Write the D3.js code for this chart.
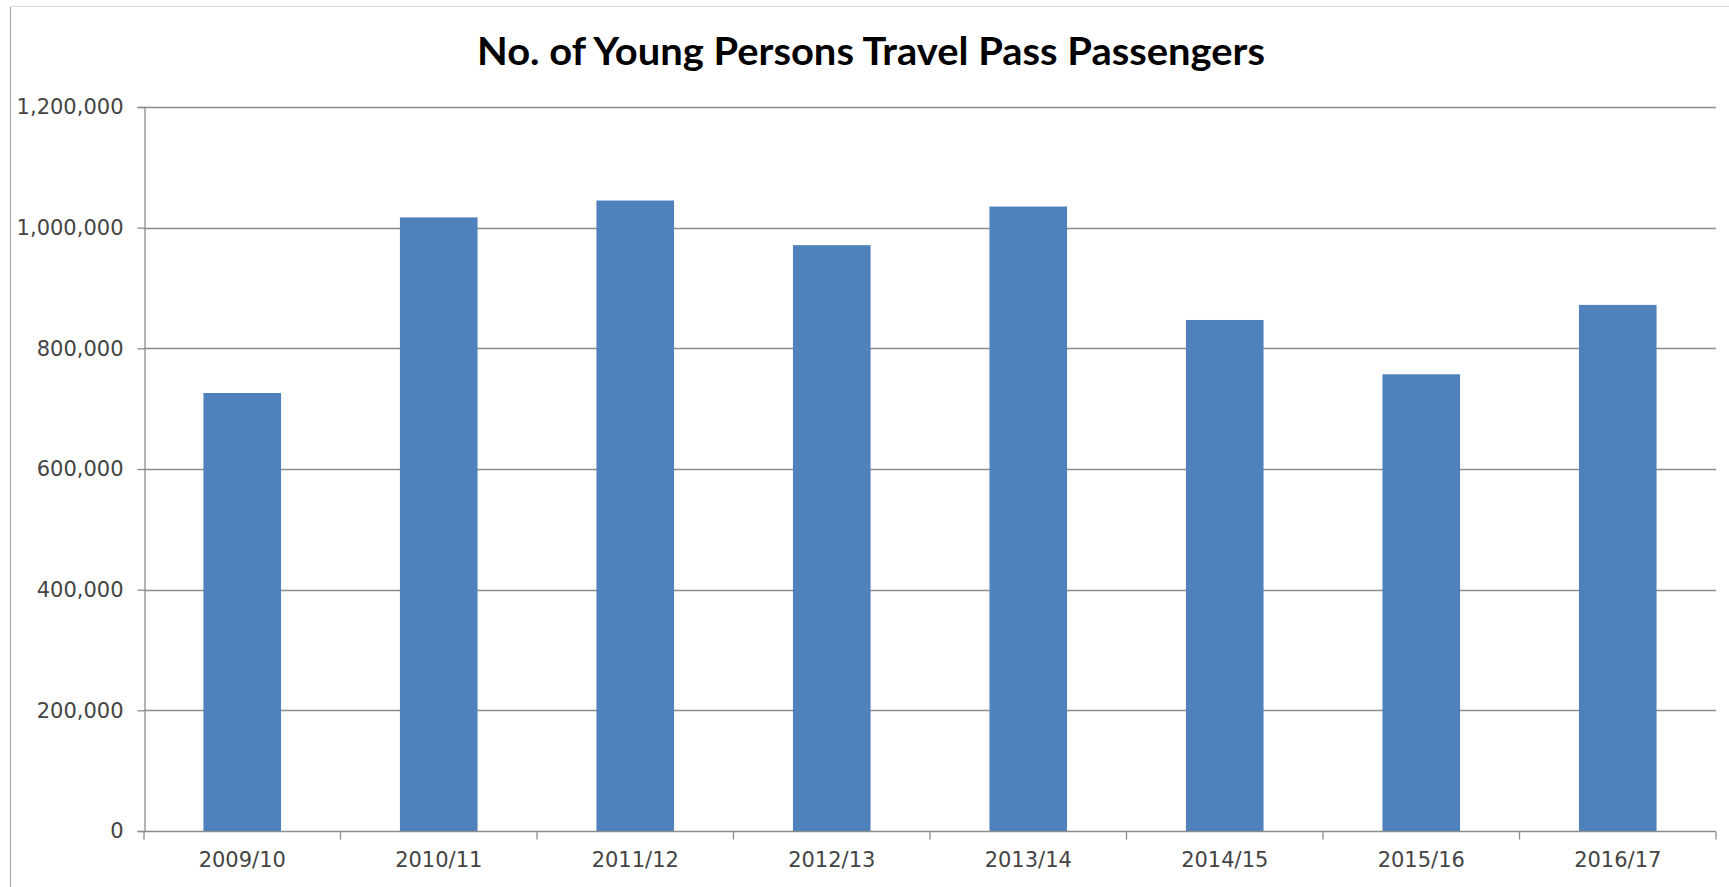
<!DOCTYPE html>
<html>
<head>
<meta charset="utf-8">
<script src="https://cdnjs.cloudflare.com/ajax/libs/d3/7.8.5/d3.min.js"></script>
<style>
  html, body { margin: 0; padding: 0; background: #fff; }
  svg { display: block; }
</style>
</head>
<body>
<svg id="chart" width="1729" height="887"></svg>
<script>
// Young Persons Travel Pass passengers by financial year
const years = ["2009/10", "2010/11", "2011/12", "2012/13", "2013/14", "2014/15", "2015/16", "2016/17"];
const passengers = [726000, 1017000, 1045000, 971000, 1035000, 847000, 757000, 872000];
const yTicks = [0, 200000, 400000, 600000, 800000, 1000000, 1200000];
const yTickLabels = ["0", "200,000", "400,000", "600,000", "800,000", "1,000,000", "1,200,000"];
const chartTitle = "No. of Young Persons Travel Pass Passengers";

const svg = d3.select("#chart");
const W = 1729, H = 887;
const plot = { left: 144, right: 1716, top: 107, bottom: 831 };
const labelFont = "DejaVu Sans, sans-serif";
const labelSize = 21;

// chart frame
svg.append("line").attr("x1", 10.5).attr("x2", 10.5).attr("y1", 6).attr("y2", H)
  .attr("stroke", "#a6a6a6").attr("stroke-width", 1.2);
svg.append("line").attr("x1", 10).attr("x2", W).attr("y1", 6.5).attr("y2", 6.5)
  .attr("stroke", "#dcdcdc").attr("stroke-width", 1.2);

const x = d3.scaleBand().domain(years).range([plot.left, plot.right]).paddingInner(0.605).paddingOuter(0.3025);
const xTickScale = d3.scaleBand().domain(years).range([plot.left, plot.right]);
const y = d3.scaleLinear().domain([0, 1200000]).range([plot.bottom, plot.top]);

// horizontal gridlines
svg.append("g").selectAll("line").data(yTicks.filter(d => d > 0)).join("line")
  .attr("x1", plot.left).attr("x2", plot.right)
  .attr("y1", d => Math.round(y(d)) + 0.5).attr("y2", d => Math.round(y(d)) + 0.5)
  .attr("stroke", "#8c8c8c").attr("stroke-width", 1.3);

// bars
svg.append("g").selectAll("rect").data(years).join("rect")
  .attr("x", d => x(d))
  .attr("width", x.bandwidth())
  .attr("y", (d, i) => y(passengers[i]))
  .attr("height", (d, i) => plot.bottom - y(passengers[i]))
  .attr("fill", "#4f81bd");

// y axis
const yAxis = d3.axisLeft(y).tickValues(yTicks).tickSize(7).tickPadding(14)
  .tickFormat((d, i) => yTickLabels[i]);
const gy = svg.append("g").attr("transform", `translate(${plot.left + 0.5},0)`).call(yAxis);
gy.select(".domain").attr("stroke", "#8c8c8c").attr("stroke-width", 1.3);
gy.selectAll(".tick line").attr("stroke", "#8c8c8c").attr("stroke-width", 1.3);
gy.selectAll(".tick text").attr("font-family", labelFont)
  .attr("font-size", labelSize).attr("fill", "#444");

// x axis with tick marks at the category boundaries
const gx = svg.append("g").attr("transform", `translate(0,${plot.bottom + 0.5})`);
gx.append("line").attr("x1", plot.left).attr("x2", plot.right).attr("y1", 0).attr("y2", 0)
  .attr("stroke", "#8c8c8c").attr("stroke-width", 1.3);
const boundaries = years.map(d => xTickScale(d)).concat([plot.right]);
gx.selectAll("line.tk").data(boundaries).join("line").attr("class", "tk")
  .attr("x1", d => d).attr("x2", d => d).attr("y1", 0).attr("y2", 8)
  .attr("stroke", "#8c8c8c").attr("stroke-width", 1.3);
gx.selectAll("text").data(years).join("text")
  .attr("x", d => xTickScale(d) + xTickScale.bandwidth() / 2)
  .attr("y", 35)
  .attr("text-anchor", "middle")
  .attr("font-family", labelFont)
  .attr("font-size", labelSize).attr("fill", "#444")
  .text(d => d);

// title
svg.append("text")
  .attr("x", 871).attr("y", 65)
  .attr("text-anchor", "middle")
  .attr("font-family", "Lato, 'Open Sans', sans-serif")
  .attr("font-weight", "bold")
  .attr("font-size", 39)
  .attr("textLength", 788).attr("lengthAdjust", "spacingAndGlyphs")
  .attr("fill", "#000")
  .text(chartTitle);
</script>
</body>
</html>
